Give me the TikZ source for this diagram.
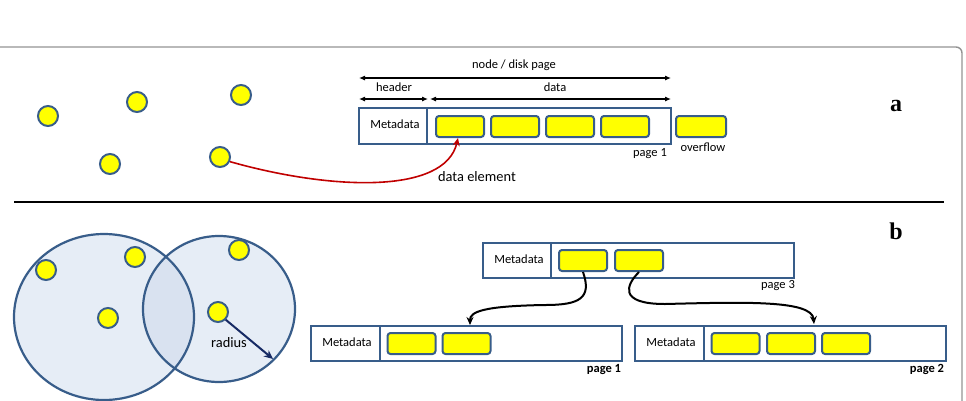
\documentclass[tikz,border=0pt]{standalone}
\usepackage{fontspec}
\setmainfont{Carlito}
\newfontfamily\panelfont{Liberation Serif}
\usetikzlibrary{arrows.meta,calc}
\definecolor{bord}{RGB}{56,93,138}
\definecolor{yel}{RGB}{255,255,0}
\definecolor{cfill}{RGB}{200,214,234}
\definecolor{navy}{RGB}{22,42,100}
\definecolor{dred}{RGB}{192,0,0}
\tikzset{
  lab/.style={font=\fontsize{12.5}{14}\selectfont, inner sep=0pt},
  biglab/.style={font=\fontsize{14.4}{16}\selectfont, inner sep=0pt},
  panel/.style={font=\panelfont\bfseries\fontsize{24}{26}\selectfont, inner sep=0pt},
  dot/.style={circle, fill=yel, draw=bord, line width=2pt, minimum size=20pt, inner sep=0pt},
  ybox/.style={rectangle, rounded corners=3pt, fill=yel, draw=bord, line width=2pt, minimum width=48pt, minimum height=21pt, inner sep=0pt},
  pagebox/.style={rectangle, draw=bord, line width=2pt, minimum width=311pt, minimum height=35pt, inner sep=0pt},
  divline/.style={draw=bord, line width=2pt},
  dimarrow/.style={black, line width=1.1pt, {Latex[length=6pt,width=5pt]}-{Latex[length=6pt,width=5pt]}},
  ptr/.style={black, line width=2pt, -{Stealth[length=8pt,width=7pt]}},
}
\begin{document}
\begin{tikzpicture}[x=1pt,y=-1pt]
\useasboundingbox (0,0) rectangle (966,400);
% outer frame
\draw[gray!85, line width=1.4pt, rounded corners=6pt] (0,47) -- (962,47) -- (962,403);
% separator
\draw[black, line width=1.5pt] (14,202) -- (944,202);
% panel labels
\node[panel] (la) at (896,106) {a};
\node[panel] (lb) at (896,231) {b};

% ---------- part a ----------
\node[dot] (a1) at (48,116) {};
\node[dot] (a2) at (137,102) {};
\node[dot] (a3) at (241,95) {};
\node[dot] (a4) at (110,164) {};
\node[dot] (a5) at (220,157) {};

\node[pagebox, minimum width=312pt, minimum height=36pt] (pa) at (515,126) {};
\draw[divline] ($(pa.north west)+(69,0)$) -- ($(pa.south west)+(69,0)$);
\node[lab] (ma) at (395,124.5) {Metadata};
\node[ybox] (ya1) at (460,126.5) {};
\node[ybox] (ya2) at (515,126.5) {};
\node[ybox] (ya3) at (570,126.5) {};
\node[ybox] (ya4) at (625,126.5) {};
\node[ybox, minimum width=50pt] (yo) at (701,126.5) {};
\node[lab] (pg1a) at (650,154) {page 1};
\node[lab] (ovf) at (703,147) {overflow};
\node[biglab] (de) at (477,177) {data element};

\node[lab] (ndp) at (514,65) {node / disk page};
\node[lab] (hdr) at (394,87) {header};
\node[lab] (dat) at (555,87) {data};
\coordinate (d1l) at (359,78);
\coordinate (d1r) at (671,78);
\coordinate (d2l) at (359,99);
\coordinate (d2r) at (428,99);
\coordinate (d3l) at (430,99);
\coordinate (d3r) at (671,99);
\draw[dimarrow] (d1l) -- (d1r);
\draw[dimarrow] (d2l) -- (d2r);
\draw[dimarrow] (d3l) -- (d3r);

\draw[dred, line width=1.6pt, -{Stealth[length=8pt,width=7pt]}]
  (a5.-25) .. controls (330,190) and (445,195) .. ($(ya1.south)+(-2,0)$);

% ---------- part b ----------
\fill[cfill, fill opacity=0.45] (104,317) ellipse [x radius=90, y radius=83];
\fill[cfill, fill opacity=0.45] (219,309) ellipse [x radius=76, y radius=73];
\draw[bord, line width=2.2pt] (104,317) ellipse [x radius=90, y radius=83];
\draw[bord, line width=2.2pt] (219,309) ellipse [x radius=76, y radius=73];

\node[dot] (b1) at (46,270) {};
\node[dot] (b2) at (135,257) {};
\node[dot] (b3) at (108,318) {};
\node[dot] (b4) at (239,250) {};
\node[dot] (b5) at (218,312) {};
\coordinate (rend) at (273,359);
\draw[navy, line width=2pt, -{Stealth[length=9pt,width=8pt]}] (b5.-45) -- (rend);
\node[biglab] (rad) at (229,343) {radius};

% page 3
\node[pagebox] (p3) at (638.5,260.5) {};
\draw[divline] ($(p3.north west)+(69,0)$) -- ($(p3.south west)+(69,0)$);
\node[lab] (m3) at (519,259) {Metadata};
\node[ybox] (yb1) at (583,260.5) {};
\node[ybox] (yb2) at (639,260.5) {};
\node[lab] (pg3) at (778,286) {page 3};

% page 1
\node[pagebox] (p1) at (466.5,343.5) {};
\draw[divline] ($(p1.north west)+(70,0)$) -- ($(p1.south west)+(70,0)$);
\node[lab] (m1) at (347,342) {Metadata};
\node[ybox] (yc1) at (411.5,343.5) {};
\node[ybox] (yc2) at (466.5,343.5) {};
\node[lab, font=\bfseries\fontsize{12.5}{14}\selectfont] (pg1) at (604,369) {page 1};

% page 2
\node[pagebox] (p2) at (790.5,343.5) {};
\draw[divline] ($(p2.north west)+(70,0)$) -- ($(p2.south west)+(70,0)$);
\node[lab] (m2) at (671,342) {Metadata};
\node[ybox] (yd1) at (735.5,343.5) {};
\node[ybox] (yd2) at (791,343.5) {};
\node[ybox] (yd3) at (846,343.5) {};
\node[lab, font=\bfseries\fontsize{12.5}{14}\selectfont] (pg2) at (927,369) {page 2};

% pointers
\coordinate (t1) at (470,325);
\coordinate (t2) at (814,324);
\draw[ptr] (yb1.south) .. controls (592,298) and (580,305) .. (545,305)
  .. controls (482,306) and (470,312) .. (t1);
\draw[ptr] (yb2.south) .. controls (626,285) and (618,304) .. (665,304)
  .. controls (745,302) and (812,300) .. (t2);
\end{tikzpicture}
\end{document}
